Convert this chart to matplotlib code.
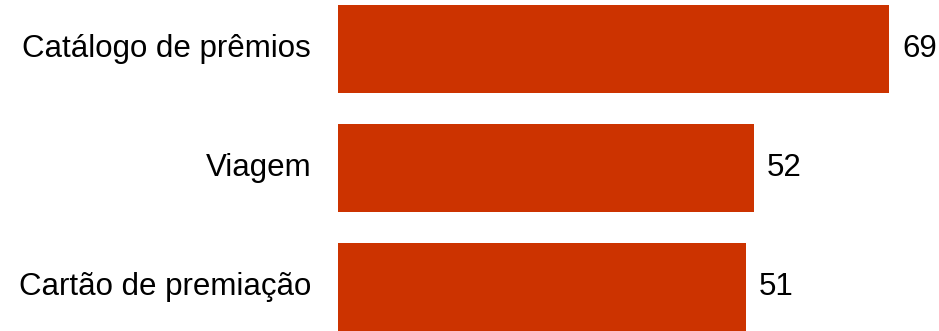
import matplotlib
matplotlib.use("Agg")
import matplotlib.pyplot as plt

categories = ["Catálogo de prêmios", "Viagem", "Cartão de premiação"]
values = [69, 52, 51]

plt.rcParams["font.family"] = ["Liberation Sans", "DejaVu Sans"]

fig = plt.figure(figsize=(9.39, 3.31), dpi=100)
ax = fig.add_axes([338 / 939, 0, 601 / 939, 1])

pos = range(len(categories))
ax.barh(pos, values, height=0.74, color="#CC3300", edgecolor="none")

ax.set_xlim(0, 75.2)
ax.set_ylim(2.37, -0.412)

for i, (c, v) in enumerate(zip(categories, values)):
    ax.annotate(c, xy=(0, i), xytext=(-27, 0), textcoords="offset pixels",
                ha="right", va="center", fontsize=22.5, color="black")
    ax.annotate(str(v), xy=(v, i), xytext=(13, 0), textcoords="offset pixels",
                ha="left", va="center", fontsize=22.5, color="black")

ax.axis("off")
fig.savefig("out.png", dpi=100)
